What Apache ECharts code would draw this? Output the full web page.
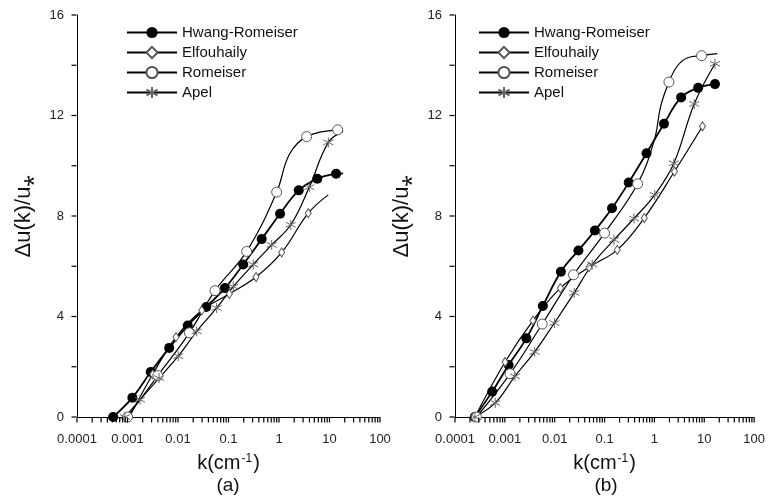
<!DOCTYPE html>
<html>
<head>
<meta charset="utf-8">
<title>Delta u(k)/u*</title>
<script src="https://cdn.jsdelivr.net/npm/echarts@6/dist/echarts.min.js"></script>
<style>
  html, body { margin: 0; padding: 0; background: #fff; }
  #chart { width: 768px; height: 496px; }
</style>
</head>
<body>
<div id="chart"></div>
<script>
// axis ticks
const kTicks = [0.0001, 0.001, 0.01, 0.1, 1, 10, 100];
const kTickLabels = ['0.0001', '0.001', '0.01', '0.1', '1', '10', '100'];
const yTicks = [0, 4, 8, 12, 16];
const yAllTicks = [0, 2, 4, 6, 8, 10, 12, 14, 16];
const seriesNames = ['Hwang-Romeiser', 'Elfouhaily', 'Romeiser', 'Apel'];

// panel (a)
const aHwangK = [0.00052, 0.00125, 0.00288, 0.0067, 0.0156, 0.0363, 0.085, 0.196, 0.454, 1.05, 2.46, 5.73, 13.5, 18.6];
const aHwangV = [0, 0.77, 1.79, 2.75, 3.64, 4.38, 5.13, 6.07, 7.08, 8.09, 9.02, 9.48, 9.68, 9.7];
const aHwangPlain = [13];

const aElfK = [0.00109, 0.00316, 0.00912, 0.0295, 0.104, 0.351, 1.13, 3.8, 9.46];
const aElfV = [0, 1.7, 3.18, 4.24, 4.9, 5.57, 6.55, 8.11, 8.84];
const aElfPlain = [8];

const aRomK = [0.001, 0.00398, 0.0168, 0.0541, 0.229, 0.9, 1.6, 3.53, 14.5];
const aRomV = [0, 1.65, 3.35, 5.03, 6.59, 8.95, 10.45, 11.16, 11.43];
const aRomPlain = [6];

const aApelK = [0.00089, 0.00177, 0.00421, 0.0101, 0.0234, 0.0583, 0.1245, 0.309, 0.716, 1.71, 3.98, 9.48, 18.6];
const aApelV = [0, 0.69, 1.55, 2.42, 3.41, 4.34, 5.19, 6.07, 6.85, 7.65, 9.15, 10.93, 11.37];
const aApelPlain = [12];

// panel (b)
const bHwangK = [0.000249, 0.000558, 0.00119, 0.0027, 0.00578, 0.0133, 0.0299, 0.064, 0.141, 0.305, 0.695, 1.556, 3.43, 7.53, 16.4];
const bHwangV = [0, 1.01, 2.07, 3.13, 4.42, 5.78, 6.63, 7.42, 8.31, 9.33, 10.5, 11.67, 12.72, 13.1, 13.25];
const bHwangPlain = [];

const bElfK = [0.000251, 0.00101, 0.00366, 0.013, 0.0486, 0.1795, 0.625, 2.52, 9.2];
const bElfV = [0, 2.19, 3.84, 5.13, 5.96, 6.65, 7.92, 9.77, 11.57];
const bElfPlain = [];

const bRomK = [0.000269, 0.00127, 0.00562, 0.0238, 0.1, 0.46, 1.0, 1.334, 1.954, 2.85, 4.5, 8.81, 18.2];
const bRomV = [0, 1.72, 3.7, 5.66, 7.32, 9.28, 11.04, 12.36, 13.33, 13.96, 14.29, 14.38, 14.46];
const bRomPlain = [6, 7, 9, 10, 12];

const bApelK = [0.000251, 0.00064, 0.00159, 0.00396, 0.00986, 0.0246, 0.0565, 0.154, 0.389, 1.014, 2.455, 6.28, 16.4];
const bApelV = [0, 0.56, 1.62, 2.59, 3.74, 4.94, 6.07, 7.05, 7.9, 8.84, 10.1, 12.46, 14.06];
const bApelPlain = [];

const FONT = 'Liberation Sans, Arial, sans-serif';
const asteriskPath = 'path://M5,0L5,10M0.67,2.5L9.33,7.5M0.67,7.5L9.33,2.5';

// every minor tick of the log axis (1..9 in each decade)
let kAllTicks = [];
for (let d = 0; d < kTicks.length - 1; d++) {
  for (let m = 1; m < 10; m++) kAllTicks.push(+(kTicks[d] * m).toPrecision(3));
}
kAllTicks.push(kTicks[kTicks.length - 1]);

const markerStyle = {
  'Hwang-Romeiser': { symbol: 'circle', symbolSize: 10, itemStyle: { color: '#000', borderColor: '#000', borderWidth: 0 }, lineWidth: 1.8 },
  'Elfouhaily': { symbol: 'diamond', symbolSize: [6, 9], itemStyle: { color: '#fff', borderColor: '#555', borderWidth: 1 }, lineWidth: 1.2 },
  'Romeiser': { symbol: 'circle', symbolSize: 10, itemStyle: { color: '#fff', borderColor: '#555', borderWidth: 1 }, lineWidth: 1.2 },
  'Apel': { symbol: asteriskPath, symbolSize: 10, itemStyle: { color: '#666', borderColor: '#666', borderWidth: 1 }, lineWidth: 1.2 }
};

function makeSeries(name, k, v, plain, idx) {
  const st = markerStyle[name];
  return {
    name: name,
    type: 'line',
    xAxisIndex: idx,
    yAxisIndex: idx,
    smooth: 0.4,
    symbol: st.symbol,
    symbolSize: st.symbolSize,
    showAllSymbol: true,
    itemStyle: st.itemStyle,
    lineStyle: { color: '#000', width: st.lineWidth },
    data: k.map((x, i) => plain.indexOf(i) >= 0 ? { value: [x, v[i]], symbol: 'none' } : [x, v[i]])
  };
}

// tick marks as small filled rect symbols (stroked tick lines did not show up)
function makeTickSeries(idx, dir) {
  const isX = dir === 'x';
  return {
    type: 'scatter',
    xAxisIndex: idx,
    yAxisIndex: idx,
    silent: true,
    clip: false,
    z: 5,
    symbol: 'rect',
    symbolSize: isX ? [1.2, 5] : [5, 1.2],
    symbolOffset: isX ? [0, 3] : [-3, 0],
    itemStyle: { color: '#000', borderWidth: 0, opacity: 1 },
    data: isX ? kAllTicks.map(k => [k, yTicks[0]]) : yAllTicks.map(v => [kTicks[0], v])
  };
}

function makeXAxis(idx) {
  return {
    gridIndex: idx,
    type: 'log',
    logBase: 10,
    min: 0.0001,
    max: 100,
    axisLine: { show: true, lineStyle: { color: '#000', width: 1 } },
    axisTick: { show: false },
    axisLabel: {
      show: true,
      customValues: kTicks,
      margin: 16,
      fontSize: 13,
      fontFamily: FONT,
      color: '#222',
      formatter: function (v) {
        const i = kTicks.findIndex(t => Math.abs(t - v) < t * 1e-6);
        return i >= 0 ? kTickLabels[i] : '';
      }
    },
    splitLine: { show: false },
    name: 'k(cm{sup|-1})',
    nameLocation: 'middle',
    nameGap: 36,
    nameTextStyle: {
      fontSize: 20, fontFamily: FONT, color: '#111',
      rich: { sup: { fontSize: 12, fontFamily: FONT, color: '#111', verticalAlign: 'top', padding: [0, 1, 8, 1] } }
    }
  };
}

function makeYAxis(idx) {
  return {
    gridIndex: idx,
    type: 'value',
    min: yTicks[0],
    max: yTicks[yTicks.length - 1],
    interval: 4,
    axisLine: { show: true, lineStyle: { color: '#000', width: 1 } },
    axisTick: { show: false },
    minorTick: { show: false },
    axisLabel: { show: true, margin: 13, fontSize: 13, fontFamily: FONT, color: '#222' },
    splitLine: { show: false },
    name: 'Δu(k)/u⁎',
    nameLocation: 'middle',
    nameGap: 42,
    nameTextStyle: { fontSize: 22, fontFamily: FONT, color: '#111' }
  };
}

function makeLegend(left) {
  return {
    left: left,
    top: 25,
    padding: 0,
    orient: 'vertical',
    itemWidth: 50,
    itemHeight: 14,
    itemGap: 5,
    selectedMode: false,
    textStyle: { fontSize: 15, fontFamily: FONT, color: '#111' },
    data: seriesNames
  };
}

const chart = echarts.init(document.getElementById('chart'));
chart.setOption({
  animation: false,
  backgroundColor: '#fff',
  grid: [
    { left: 77, top: 15, width: 303, height: 402 },
    { left: 455, top: 15, width: 303, height: 402 }
  ],
  xAxis: [makeXAxis(0), makeXAxis(1)],
  yAxis: [makeYAxis(0), makeYAxis(1)],
  legend: [makeLegend(126), makeLegend(478)],
  graphic: [
    { type: 'text', x: 228, y: 486, style: { text: '(a)', font: '19px ' + FONT, fill: '#111', align: 'center', verticalAlign: 'middle' } },
    { type: 'text', x: 606, y: 486, style: { text: '(b)', font: '19px ' + FONT, fill: '#111', align: 'center', verticalAlign: 'middle' } }
  ],
  series: [
    makeSeries('Hwang-Romeiser', aHwangK, aHwangV, aHwangPlain, 0),
    makeSeries('Elfouhaily', aElfK, aElfV, aElfPlain, 0),
    makeSeries('Romeiser', aRomK, aRomV, aRomPlain, 0),
    makeSeries('Apel', aApelK, aApelV, aApelPlain, 0),
    makeSeries('Hwang-Romeiser', bHwangK, bHwangV, bHwangPlain, 1),
    makeSeries('Elfouhaily', bElfK, bElfV, bElfPlain, 1),
    makeSeries('Romeiser', bRomK, bRomV, bRomPlain, 1),
    makeSeries('Apel', bApelK, bApelV, bApelPlain, 1),
    makeTickSeries(0, 'x'),
    makeTickSeries(0, 'y'),
    makeTickSeries(1, 'x'),
    makeTickSeries(1, 'y')
  ]
});
</script>
</body>
</html>
